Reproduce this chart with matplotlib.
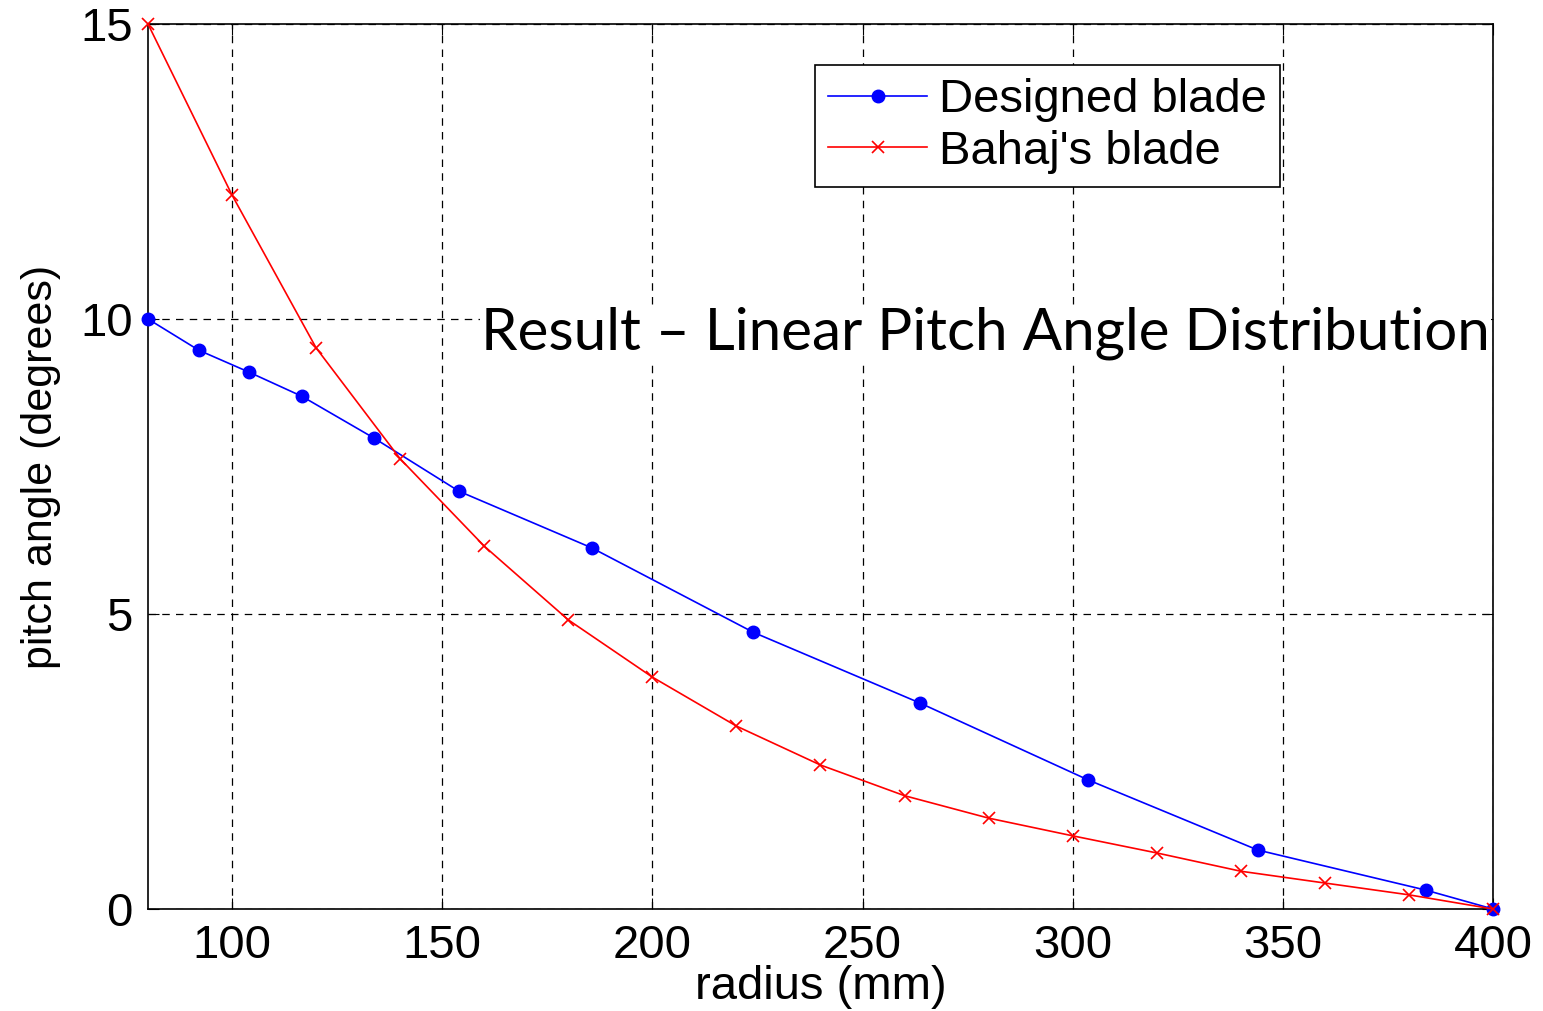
import numpy as np
import matplotlib.pyplot as plt

# Designed blade (blue dots)
r_designed = [80, 92.1, 104, 116.6, 133.8, 154, 185.6, 224, 263.7, 303.6, 344, 384, 400]
pitch_designed = [10.0, 9.47, 9.10, 8.69, 7.98, 7.08, 6.12, 4.69, 3.49, 2.19, 1.0, 0.32, 0.0]

# Bahaj's blade (red crosses)
r_bahaj = [80, 100, 120, 140, 160, 180, 200, 220, 240, 260, 280, 300, 320, 340, 360, 380, 400]
pitch_bahaj = [15.0, 12.1, 9.51, 7.63, 6.15, 4.9, 3.93, 3.10, 2.44, 1.92, 1.54, 1.24, 0.95, 0.64, 0.44, 0.24, 0.0]

xticks = [100, 150, 200, 250, 300, 350, 400]
yticks = [0, 5, 10, 15]

plt.rcParams['font.family'] = ['Liberation Sans', 'DejaVu Sans']

fig = plt.figure(figsize=(15.43, 10.11), dpi=100)
ax = fig.add_axes([0.0959, 0.1009, 0.8717, 0.8754])

ax.plot(r_designed, pitch_designed, color='blue', lw=1.2, marker='o', ms=9,
        label='Designed blade', clip_on=False, zorder=3)
ax.plot(r_bahaj, pitch_bahaj, color='red', lw=1.2, marker='x', ms=9, mew=1.2,
        label="Bahaj's blade", clip_on=False, zorder=3)

ax.set_xlim(80, 400)
ax.set_ylim(0, 15)
ax.set_xticks(xticks)
ax.set_yticks(yticks)
ax.tick_params(direction='in', length=8, labelsize=34, top=True, right=True, pad=11)
ax.grid(True, color='black', linestyle=(0, (6, 5)), lw=0.9)
for s in ax.spines.values():
    s.set_linewidth(1.2)

ax.set_xlabel('radius (mm)', fontsize=34, labelpad=-2)
ax.set_ylabel('pitch angle (degrees)', fontsize=31, labelpad=14)

leg = ax.legend(loc='upper right', bbox_to_anchor=(0.8417, 0.9537), borderaxespad=0,
                fontsize=34, fancybox=False, framealpha=1, edgecolor='black',
                handlelength=2.1, handletextpad=0.25, borderpad=0.28, labelspacing=0.16)
leg.get_frame().set_linewidth(1.2)

ax.text(0.9975, 0.65, 'Result \u2013 Linear Pitch Angle Distribution', transform=ax.transAxes,
        ha='right', va='center', fontsize=42, family=['Lato', 'DejaVu Sans'],
        bbox=dict(facecolor='white', edgecolor='none', pad=1), zorder=2)

fig.savefig('out.png', dpi=100)
